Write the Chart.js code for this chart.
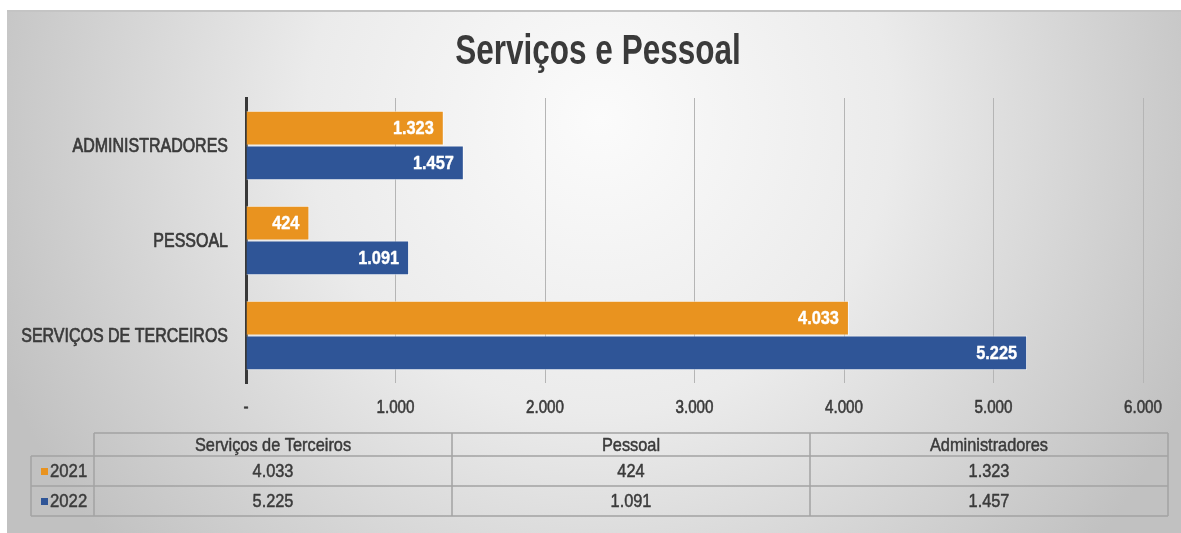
<!DOCTYPE html>
<html lang="pt-BR">
<head>
<meta charset="utf-8">
<title>Serviços e Pessoal</title>
<script src="https://cdn.jsdelivr.net/npm/chart.js@4.4.1/dist/chart.umd.min.js"></script>
<style>
  html, body { margin: 0; padding: 0; background: #fff; }
  #wrap { width: 1181px; height: 533px; }
</style>
</head>
<body>
<div id="wrap"><canvas id="grafico" width="1181" height="533"></canvas></div>
<script>
// dados na ordem da tabela (Excel desenha de baixo para cima)
const titulo = 'Serviços e Pessoal';
const categorias = ['Serviços de Terceiros', 'Pessoal', 'Administradores'];
const anos = ['2021', '2022'];
const valores2021 = [4033, 424, 1323];
const valores2022 = [5225, 1091, 1457];
const ticksEixo = [0, 1000, 2000, 3000, 4000, 5000, 6000];

const cores = ['#E9931F', '#2F5597'];
const FONTE = '"Liberation Sans", Arial, sans-serif';
const TEXTO = '#3a3a3a';

// 4033 -> "4.033"
function fmt(v) {
  return String(v).replace(/\B(?=(\d{3})+(?!\d))/g, '.');
}

// sem fonte estreita instalada: comprime o texto na horizontal
// (traco opcional para engrossar um pouco o regular)
function textoEstreito(ctx, txt, x, y, escala, align, traco) {
  ctx.save();
  ctx.translate(x, y);
  ctx.scale(escala, 1);
  ctx.textAlign = align;
  if (traco) {
    ctx.strokeStyle = ctx.fillStyle;
    ctx.lineWidth = traco;
    ctx.lineJoin = 'round';
    ctx.strokeText(txt, 0, 0);
  }
  ctx.fillText(txt, 0, 0);
  ctx.restore();
}

// eixo vertical: primeiro rótulo fica em cima
const rotulosEixo = categorias.slice().reverse().map(c => c.toUpperCase());
const serie2021 = valores2021.slice().reverse();
const serie2022 = valores2022.slice().reverse();

// fundo com degradê e moldura
const fundo = {
  id: 'fundo',
  beforeDraw(chart) {
    const { ctx, width, height } = chart;
    ctx.save();
    ctx.fillStyle = '#fff';
    ctx.fillRect(0, 0, width, height);
    const g = ctx.createRadialGradient(600, 120, 0, 600, 120, 650);
    g.addColorStop(0, '#fbfbfb');
    g.addColorStop(0.45, '#ebebeb');
    g.addColorStop(1, '#c1c1c1');
    ctx.fillStyle = g;
    ctx.fillRect(7, 10, width - 7, height - 10);
    ctx.strokeStyle = '#c4c4c4';
    ctx.lineWidth = 2;
    ctx.beginPath();
    ctx.moveTo(7, 11);
    ctx.lineTo(width, 11);
    ctx.stroke();
    ctx.restore();
  }
};

// rótulos de valor dentro da ponta das barras
const rotulosBarras = {
  id: 'rotulosBarras',
  afterDatasetsDraw(chart) {
    const ctx = chart.ctx;
    ctx.save();
    ctx.font = 'bold 19px ' + FONTE;
    ctx.fillStyle = '#fff';
    ctx.textBaseline = 'middle';
    chart.data.datasets.forEach((ds, i) => {
      chart.getDatasetMeta(i).data.forEach((bar, j) => {
        textoEstreito(ctx, fmt(ds.data[j]), bar.x - 10, bar.y + 1, 0.86, 'right', 0.4);
      });
    });
    ctx.restore();
  }
};

// rótulos dos eixos, título e tabela de dados
const textos = {
  id: 'textos',
  afterDraw(chart) {
    const ctx = chart.ctx;
    const sx = chart.scales.x, sy = chart.scales.y;
    ctx.save();
    ctx.fillStyle = TEXTO;
    ctx.textBaseline = 'middle';

    ctx.font = '19.5px ' + FONTE;
    rotulosEixo.forEach((r, i) => {
      textoEstreito(ctx, r, sy.right - 18, sy.getPixelForTick(i) + 1, 0.82, 'right', 0.7);
    });
    ctx.font = '19px ' + FONTE;
    ticksEixo.forEach(v => {
      textoEstreito(ctx, v === 0 ? '-' : fmt(v), sx.getPixelForValue(v), 408, 0.8, 'center', 0.6);
    });

    ctx.font = 'bold 42px ' + FONTE;
    ctx.textBaseline = 'alphabetic';
    textoEstreito(ctx, titulo, 598, 64, 0.75, 'center');

    const xs = [94, 452, 810, 1168];
    const ys = [433, 456, 486, 516];
    const xRot = 31;
    ctx.strokeStyle = '#a3a3a3';
    ctx.lineWidth = 1.5;
    ctx.beginPath();
    ctx.moveTo(xs[0], ys[0]); ctx.lineTo(xs[3], ys[0]);
    for (let k = 1; k < ys.length; k++) {
      ctx.moveTo(xRot, ys[k]); ctx.lineTo(xs[3], ys[k]);
    }
    ctx.moveTo(xRot, ys[1]); ctx.lineTo(xRot, ys[3]);
    xs.forEach(x => { ctx.moveTo(x, ys[0]); ctx.lineTo(x, ys[3]); });
    ctx.stroke();

    ctx.font = '19px ' + FONTE;
    ctx.textBaseline = 'middle';
    categorias.forEach((c, k) => {
      textoEstreito(ctx, c, (xs[k] + xs[k + 1]) / 2, (ys[0] + ys[1]) / 2 + 1, 0.86, 'center', 0.5);
    });
    const linhas = [valores2021, valores2022];
    linhas.forEach((vals, r) => {
      const yc = (ys[r + 1] + ys[r + 2]) / 2 + 1;
      ctx.fillStyle = TEXTO;
      vals.forEach((v, k) => textoEstreito(ctx, fmt(v), (xs[k] + xs[k + 1]) / 2, yc, 0.86, 'center', 0.5));
      ctx.fillStyle = cores[r];
      ctx.fillRect(41, yc - 4, 7, 7);
      ctx.fillStyle = TEXTO;
      textoEstreito(ctx, anos[r], 50, yc, 0.88, 'left', 0.5);
    });
    ctx.restore();
  }
};

new Chart(document.getElementById('grafico'), {
  type: 'bar',
  data: {
    labels: rotulosEixo,
    datasets: [
      { label: anos[0], data: serie2021, backgroundColor: cores[0] },
      { label: anos[1], data: serie2022, backgroundColor: cores[1] }
    ]
  },
  options: {
    indexAxis: 'y',
    responsive: false,
    devicePixelRatio: 1,
    animation: false,
    datasets: {
      bar: {
        categoryPercentage: 0.73,
        barPercentage: 1.0,
        borderWidth: 1,
        borderColor: 'rgba(255,255,255,0.65)'
      }
    },
    layout: { padding: { top: 98, left: 7, right: 38, bottom: 110 } },
    plugins: {
      legend: { display: false },
      title: { display: false },
      tooltip: { enabled: false }
    },
    scales: {
      x: {
        min: ticksEixo[0],
        max: ticksEixo[ticksEixo.length - 1],
        afterBuildTicks: s => { s.ticks = ticksEixo.map(v => ({ value: v })); },
        afterFit: s => { s.height = 40; },
        grid: { color: '#b5b5b5', lineWidth: 1, drawTicks: false },
        border: { display: false },
        ticks: { display: false }
      },
      y: {
        afterFit: s => { s.width = 239; },
        grid: { display: false },
        border: { display: true, color: '#383838', width: 3 },
        ticks: { display: false }
      }
    }
  },
  plugins: [fundo, rotulosBarras, textos]
});
</script>
</body>
</html>
